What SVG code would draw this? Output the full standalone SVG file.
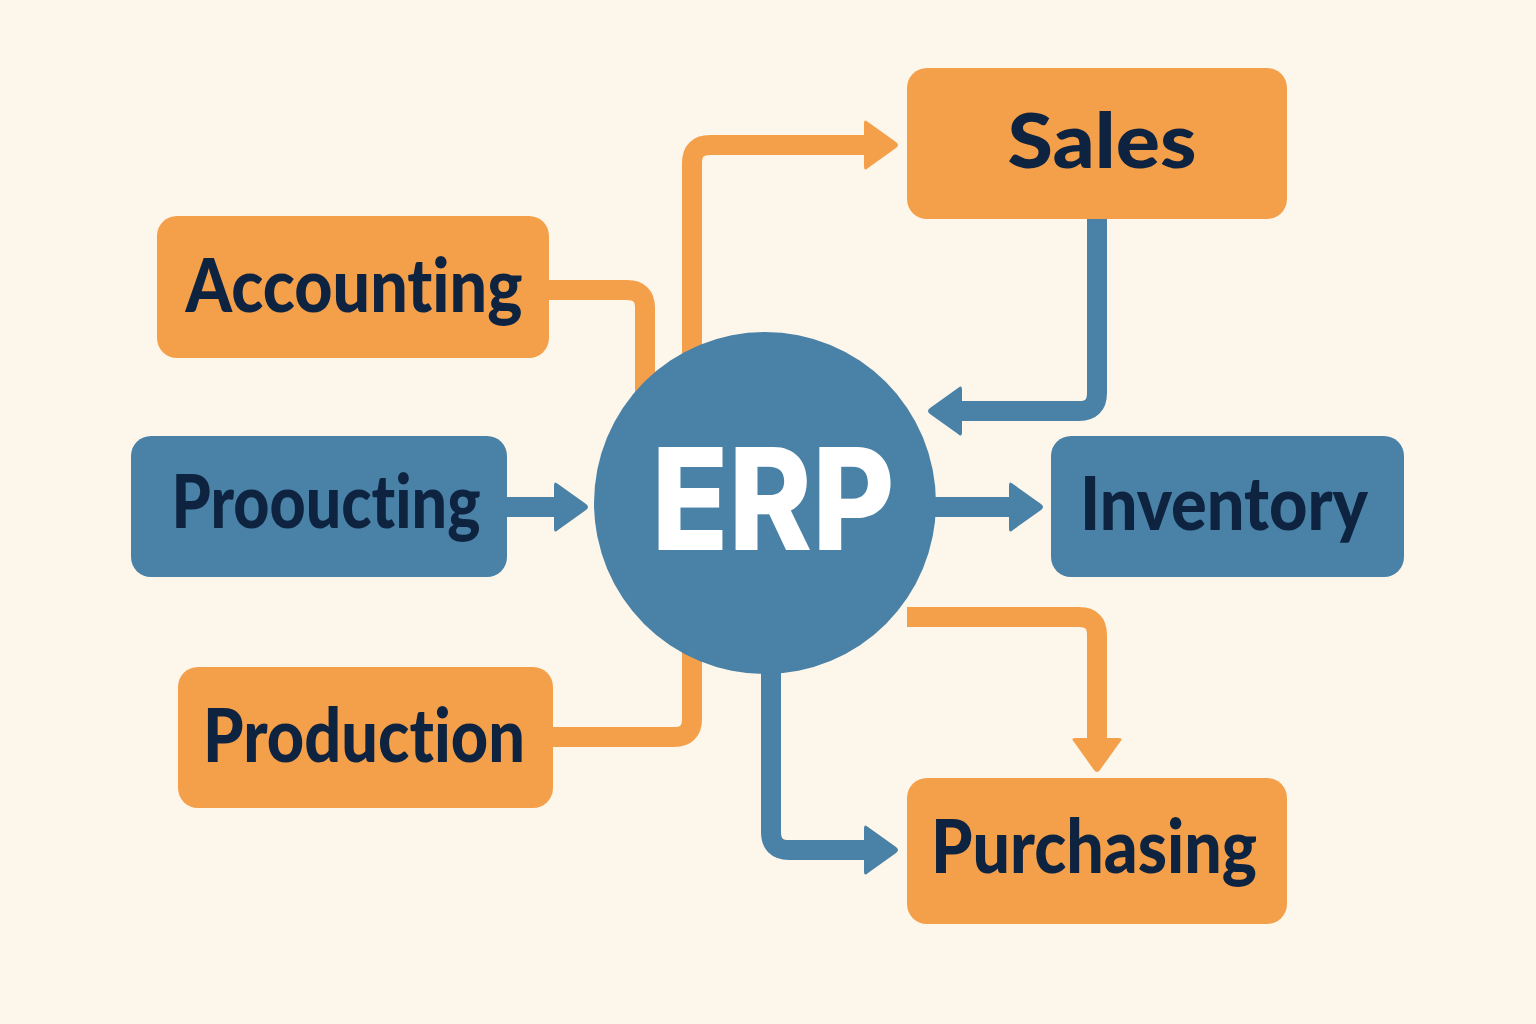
<svg xmlns="http://www.w3.org/2000/svg" xmlns:xlink="http://www.w3.org/1999/xlink" width="1536" height="1024" viewBox="0 0 1536 1024">
<style>
.bg{fill:#FDF6EA}
.orange{fill:#F4A04B}
.blue{fill:#4A81A6}
.lbl{font-family:Lato,Inter,"Liberation Sans",sans-serif;font-weight:900;fill:#0E2340;text-anchor:middle;font-variant-ligatures:none}
.erp{font-family:Inter,"Liberation Sans",sans-serif;font-weight:800;fill:#FFFFFF;text-anchor:middle}
.co{fill:none;stroke:#F4A04B;stroke-width:20}
.cb{fill:none;stroke:#4A81A6;stroke-width:20}
.ho{fill:#F4A04B}
.hb{fill:#4A81A6}
</style>
<defs>
<path id="head" d="M-30,-23 Q-34,-27 -34,-21 V21 Q-34,27 -30,23 L-2,3 Q2,0 -2,-3 Z"/>
</defs>
<rect class="bg" x="0" y="0" width="1536" height="1024"/>
<g id="connectors">
<path class="co" d="M549,290 H627 Q645,290 645,308 V400"/>
<path class="co" d="M692,380 V163 Q692,145 710,145 H872"/>
<use href="#head" xlink:href="#head" class="ho" transform="translate(898,145)"/>
<path class="cb" d="M1097,219 V393 Q1097,411 1079,411 H954"/>
<use href="#head" xlink:href="#head" class="hb" transform="translate(928,411) rotate(180)"/>
<path class="cb" d="M507,507 H562"/>
<use href="#head" xlink:href="#head" class="hb" transform="translate(588,507)"/>
<path class="cb" d="M930,507 H1017"/>
<use href="#head" xlink:href="#head" class="hb" transform="translate(1043,507)"/>
<path class="co" d="M553,737 H674 Q692,737 692,719 V630"/>
<path class="cb" d="M771,660 V832 Q771,850 789,850 H872"/>
<use href="#head" xlink:href="#head" class="hb" transform="translate(898,850)"/>
<path class="co" d="M907,617 H1079 Q1097,617 1097,635 V746"/>
<use href="#head" xlink:href="#head" class="ho" transform="translate(1097,772) rotate(90)"/>
</g>
<g id="erp">
<circle class="blue" cx="765" cy="503" r="171"/>
<text class="erp" x="773" y="550" font-size="142" textLength="243" lengthAdjust="spacingAndGlyphs">ERP</text>
</g>
<g id="sales">
<rect class="orange" x="907" y="68" width="380" height="151" rx="20"/>
<text class="lbl" x="1102" y="168" font-size="76" textLength="189" lengthAdjust="spacingAndGlyphs">Sales</text>
</g>
<g id="accounting">
<rect class="orange" x="157" y="216" width="392" height="142" rx="20"/>
<text class="lbl" x="354" y="312" font-size="74" textLength="337" lengthAdjust="spacingAndGlyphs">Accounting</text>
</g>
<g id="proocucting">
<rect class="blue" x="131" y="436" width="376" height="141" rx="20"/>
<text class="lbl" x="326" y="528" font-size="74" textLength="309" lengthAdjust="spacingAndGlyphs">Prooucting</text>
</g>
<g id="inventory">
<rect class="blue" x="1051" y="436" width="353" height="141" rx="20"/>
<text class="lbl" x="1224" y="530" font-size="74" textLength="288" lengthAdjust="spacingAndGlyphs">Inventory</text>
</g>
<g id="production">
<rect class="orange" x="178" y="667" width="375" height="141" rx="20"/>
<text class="lbl" x="364" y="762" font-size="74" textLength="322" lengthAdjust="spacingAndGlyphs">Production</text>
</g>
<g id="purchasing">
<rect class="orange" x="907" y="778" width="380" height="146" rx="20"/>
<text class="lbl" x="1094" y="873" font-size="74" textLength="326" lengthAdjust="spacingAndGlyphs">Purchasing</text>
</g>
</svg>
